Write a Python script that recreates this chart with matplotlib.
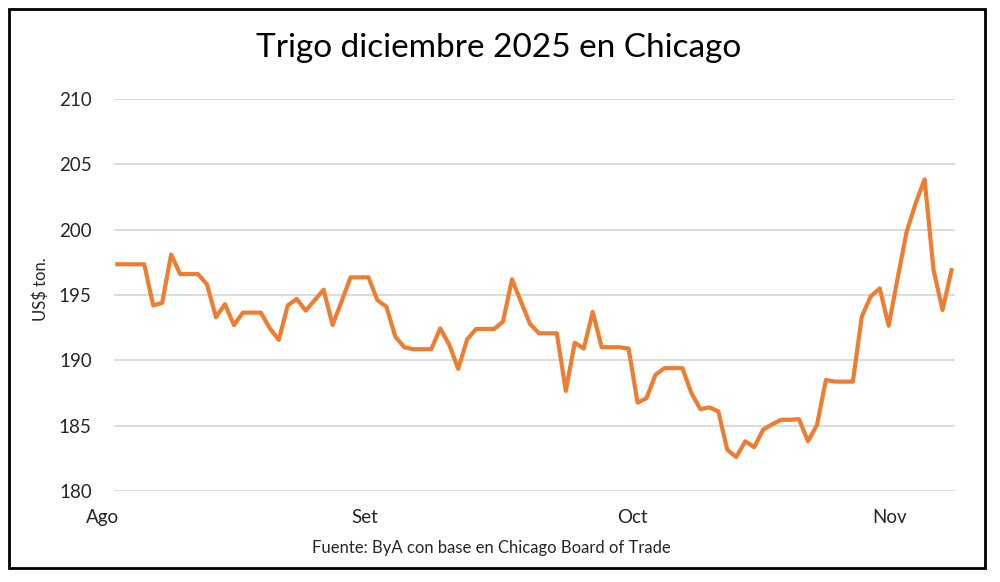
import numpy as np
import matplotlib.pyplot as plt
from matplotlib.patches import Rectangle

# ===========================================================
# DATA — wheat Dec 2025, Chicago (US$/ton), one value per point
# ===========================================================
precios = [
    197.35, 197.35, 197.35, 197.35, 194.2, 194.4, 198.1, 196.6, 196.6, 196.6,
    195.8, 193.3, 194.3, 192.7, 193.65, 193.65, 193.65, 192.45, 191.56, 194.2,
    194.7, 193.8, 194.6, 195.4, 192.7, 194.5, 196.35, 196.35, 196.35, 194.6,
    194.1, 191.8, 191.0, 190.85, 190.85, 190.85, 192.45, 191.2, 189.35, 191.6,
    192.4, 192.4, 192.4, 192.96, 196.2, 194.5, 192.8, 192.07, 192.07, 192.07,
    187.66, 191.35, 190.9, 193.7, 191.0, 191.0, 191.0, 190.9, 186.76, 187.1,
    188.9, 189.4, 189.4, 189.4, 187.5, 186.26, 186.4, 186.1, 183.15, 182.6,
    183.8, 183.35, 184.7, 185.1, 185.45, 185.45, 185.5, 183.8, 185.05, 188.5,
    188.37, 188.37, 188.37, 193.35, 194.9, 195.5, 192.65, 196.3, 199.85, 202.0,
    203.85, 196.9, 193.85, 196.9,
]
meses = ["Ago", "Set", "Oct", "Nov"]
y_ticks = [180, 185, 190, 195, 200, 205, 210]

titulo = "Trigo diciembre 2025 en Chicago"
fuente = "Fuente: ByA con base en Chicago Board of Trade"

# ===========================================================
# PLOT
# ===========================================================
plt.rcParams["font.family"] = ["Lato", "DejaVu Sans"]

x = np.arange(len(precios))
mes_pos = [-1.6, 27.6, 57.4, 86.1]  # where the month labels sit (in point index)

fig = plt.figure(figsize=(10, 5.82), dpi=100)
ax = fig.add_axes([0.114, 0.1564, 0.841, 0.6735])

ax.plot(x, precios, color="#ED7D31", linewidth=3, solid_joinstyle="round")

ax.set_ylim(180, 210)
ax.set_yticks(y_ticks)
ax.set_yticklabels([str(v) for v in y_ticks], fontsize=13.5, color="#262626")
ax.set_xlim(-0.37, 93.39)
ax.set_xticks([])
ax.tick_params(axis="both", length=0)
ax.tick_params(axis="y", pad=16)

# month labels drawn as text so the first one can sit left of the plot area
for pos, mes in zip(mes_pos, meses):
    ax.text(pos, -0.068, mes, transform=ax.get_xaxis_transform(), ha="center",
            va="center", fontsize=13.5, color="#262626", clip_on=False)

ax.grid(axis="y", color="#D9D9D9", linewidth=1.3)
ax.set_axisbelow(True)
for s in ax.spines.values():
    s.set_visible(False)

fig.text(0.041, 0.503, "US$ ton.", rotation=90, ha="center", va="center",
         fontsize=12, color="#262626")
fig.text(0.499, 0.918, titulo, ha="center", va="center", fontsize=24, color="#000000")
fig.text(0.491, 0.058, fuente, ha="center", va="center", fontsize=12, color="#262626")

# black frame around the whole chart
fig.patches.append(Rectangle((0.009, 0.024), 0.976, 0.9605, transform=fig.transFigure,
                             fill=False, edgecolor="black", linewidth=2))

fig.savefig("out.png", dpi=100)
